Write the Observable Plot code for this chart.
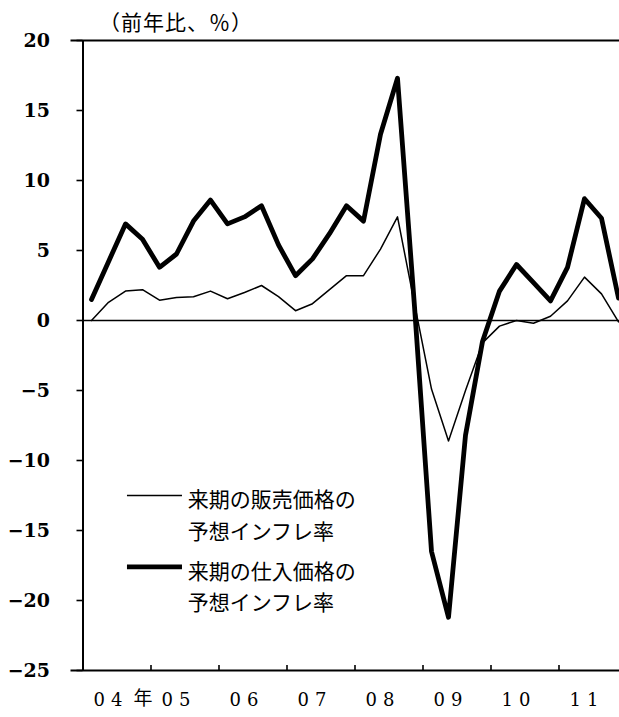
<!DOCTYPE html>
<html><head><meta charset="utf-8">
<script src="https://cdn.jsdelivr.net/npm/d3@7"></script>
<script src="https://cdn.jsdelivr.net/npm/@observablehq/plot@0.6"></script>
<style>
html,body{margin:0;padding:0;background:#fff}
#chart svg{display:block}
</style>
</head><body><div id="chart"></div>
<script>
// ---- data ----
const quarters = ["2004Q1","2004Q2","2004Q3","2004Q4","2005Q1","2005Q2","2005Q3","2005Q4",
  "2006Q1","2006Q2","2006Q3","2006Q4","2007Q1","2007Q2","2007Q3","2007Q4",
  "2008Q1","2008Q2","2008Q3","2008Q4","2009Q1","2009Q2","2009Q3","2009Q4",
  "2010Q1","2010Q2","2010Q3","2010Q4","2011Q1","2011Q2","2011Q3","2011Q4"];
// 来期の販売価格の予想インフレ率 (thin)
const sellingPrice = [0,1.3,2.1,2.2, 1.45,1.65,1.7,2.1, 1.55,2.0,2.5,1.7, 0.7,1.2,2.2,3.2,
  3.2,5.1,7.4,1.2, -4.9,-8.6,-5.0,-1.6, -0.4,0.0,-0.2,0.3, 1.4,3.1,1.9,-0.1];
// 来期の仕入価格の予想インフレ率 (thick)
const purchasePrice = [1.5,4.2,6.9,5.8, 3.8,4.75,7.1,8.6, 6.9,7.4,8.2,5.4, 3.2,4.4,6.2,8.2,
  7.1,13.3,17.3,1.0, -16.5,-21.2,-8.2,-1.5, 2.1,4.0,2.7,1.4, 3.8,8.7,7.3,1.6];
const seriesNames = ["来期の販売価格の\n予想インフレ率", "来期の仕入価格の\n予想インフレ率"];
const yTicks = [-25,-20,-15,-10,-5,0,5,10,15,20];
const yearTicks = [2005,2006,2007,2008,2009,2010,2011];
const yearLabels = ["04","05","06","07","08","09","10","11"];
const yearUnit = "年";
const yLabel = "（前年比、％）";

// ---- build tables ----
const qTime = q => +q.slice(0,4) + (+q.slice(5) - 0.5) / 4;
const thin = quarters.map((q,i) => ({t: qTime(q), v: sellingPrice[i]}));
const thick = quarters.map((q,i) => ({t: qTime(q), v: purchasePrice[i]}));
const labelRows = yearLabels.map((s,i) => ({t: 2004 + i + 0.5, s}));

const W = 619, H = 717, ML = 82.5, PX_YEAR = 68;
const cjk = "'Noto Sans CJK JP', sans-serif";
const serif = "'DejaVu Serif', serif";

const plot = Plot.plot({
  width: W, height: H,
  marginLeft: ML, marginRight: 0, marginTop: 40, marginBottom: 47,
  x: {domain: [2004, 2004 + (W - ML) / PX_YEAR], axis: null},
  y: {domain: [-25, 20], axis: null},
  style: {fontFamily: serif, background: "#fff", color: "#000"},
  marks: [
    Plot.axisY({ticks: yTicks, label: null, tickSize: 6, tickPadding: 27, fontSize: 19, strokeWidth: 1.6,
      fontFamily: serif, fontWeight: 600,
      tickFormat: d => d < 0 ? "\u2212" + (-d) : String(d)}),
    Plot.ruleX([2004], {strokeWidth: 2}),
    Plot.ruleY([20, -25], {strokeWidth: 2, insetLeft: -12}),
    Plot.ruleY([0], {strokeWidth: 1.3}),
    Plot.ruleX(yearTicks, {y1: -25, y2: -25 + 5/14, strokeWidth: 1.6}),
    Plot.line(thin, {x: "t", y: "v", stroke: "#000", strokeWidth: 1.5}),
    Plot.line(thick, {x: "t", y: "v", stroke: "#000", strokeWidth: 4.8}),
    // legend
    Plot.ruleY([{v: -12.5}], {y: "v", x1: 2004.654, x2: 2005.463, strokeWidth: 1.5}),
    Plot.ruleY([{v: -17.6}], {y: "v", x1: 2004.654, x2: 2005.463, strokeWidth: 4.8}),
    Plot.text([seriesNames[0]], {x: 2005.54, y: -12.5, text: d => d, textAnchor: "start", lineAnchor: "top",
      dy: -11, lineHeight: 1.52, fontSize: 21, fontFamily: cjk}),
    Plot.text([seriesNames[1]], {x: 2005.54, y: -17.6, text: d => d, textAnchor: "start", lineAnchor: "top",
      dy: -11, lineHeight: 1.52, fontSize: 21, fontFamily: cjk}),
    // y label
    Plot.text([yLabel], {frameAnchor: "top-left", text: d => d, dx: 16, dy: -25, textAnchor: "start",
      fontSize: 21, fontFamily: cjk, ariaDescription: "ylab"}),
    // x labels
    Plot.text(labelRows, {x: "t", text: "s", frameAnchor: "bottom", dy: 35, dx: -6, fontSize: 18,
      fontFamily: serif, ariaDescription: "xlab"}),
    Plot.text([yearUnit], {x: () => 2005, text: d => d, frameAnchor: "bottom", dy: 34, dx: -8,
      fontSize: 19, fontFamily: cjk})
  ]
});
document.getElementById("chart").append(plot);
d3.select(plot).selectAll('g[aria-description="xlab"]').attr("letter-spacing", "6px");
d3.select(plot).selectAll('g[aria-description="ylab"]').attr("letter-spacing", "1px");
</script>
</body></html>
